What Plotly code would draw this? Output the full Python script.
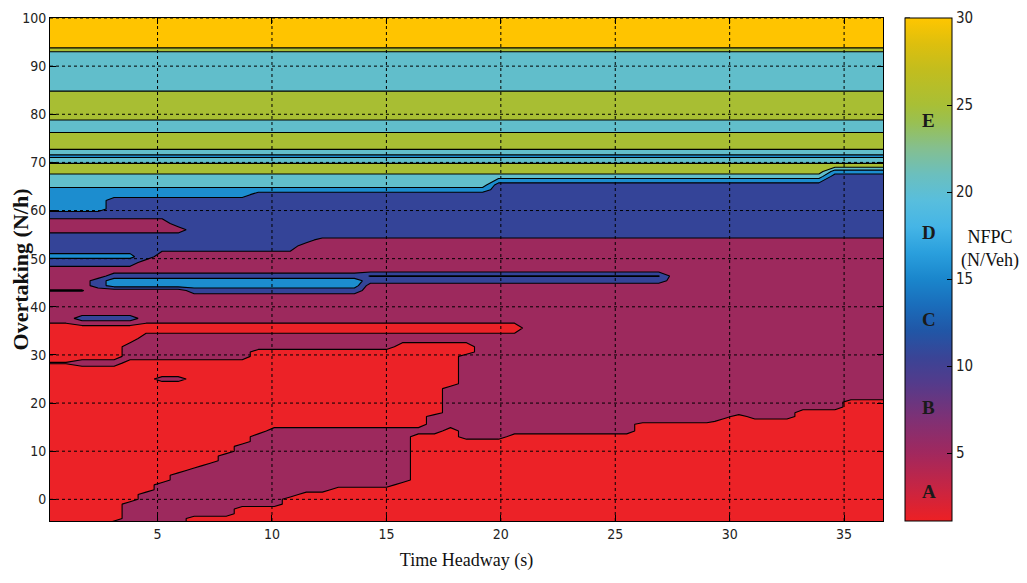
import re
import plotly.graph_objects as go

# ---------------- data ----------------
# Time-headway grid nodes (s)
x_nodes = [round(0.3 + 0.7 * i, 2) for i in range(53)]

# Overtaking grid rows (N/h)
y_rows = [-5, -4, -3, -2, -1, 0, 1, 2, 3, 4, 5, 6, 7, 8, 9, 10, 11, 12, 13,
          14.2, 15.6, 16.2, 17.2, 18.0, 19.2, 20.2, 21.2, 22, 23, 24, 25, 26, 27,
          28.3, 29.7, 30.6, 31.7, 33.4, 35.6, 37.6, 38.8, 42.0, 43.4, 44.4, 45.4,
          46.4, 47.6, 49.2, 50.4, 52.7, 53.9, 54.7, 56.0, 57.3, 59.3, 60.3, 62.1,
          63.3, 64.3, 65.3, 67.1, 68.1, 69.3, 70.3, 71.3, 72.2, 73.2, 75.7, 76.7,
          78.3, 79.3, 84.3, 85.3, 92.6, 94.2, 100]

# NFPC value read at each node (letter code -> value)
nfpc_code_values = {"r": 2.5, "h": 5.3, "m": 7.5, "H": 10.3, "b": 12.5, "e": 15.3,
                    "d": 16.0, "c": 17.5, "j": 19.0, "k": 22.5, "g": 27.5, "o": 32.5}

# one run-length coded string per row (bottom -> top), 53 nodes each
nfpc_rows = [
    "r4 m5 r44", "r5 m4 r44", "r5 m7 r41", "r5 m7 r41", "r5 m10 r38",
    "r6 m9 r38", "r6 m10 r37", "r7 m11 r35", "r7 m15 r31", "r8 m15 r30",
    "r8 m15 r30", "r9 m14 r30", "r10 m13 r30", "r11 m12 r30", "r11 m12 r30",
    "r12 m11 r30", "r12 m11 r30", "r13 m10 r30", "r13 m10 r3 m3 r24",
    "r14 m11 r1 m11 r16", "r24 m13 r16", "r24 m18 r11", "r24 m19 r1 m3 r6",
    "r25 m22 r6", "r25 m25 r3", "r25 m25 r3", "r25 m28", "r25 m28", "r25 m28",
    "r26 m27", "r7 m2 r17 m27", "r26 m27", "r26 m27",
    "h2 m3 r21 m27", "r5 m8 r13 m27", "r5 m8 r14 m26", "r5 m17 r5 m26",
    "r6 m47", "r30 m23", "m2 b4 m47", "m53", "m53",
    "H3 m6 b11 m33", "m3 b1 c16 m33", "m3 b1 c16 b19 m14", "m4 b16 e19 m14",
    "m53", "b6 m47", "d6 b1 m46", "b16 m37", "b17 m36", "b53",
    "m9 b44", "m8 b45", "b53", "c4 b49", "c4 b49", "c13 b40", "c28 b25",
    "k28 b25", "k49 b4", "g49 c4", "g53", "k53", "j53", "k53", "g53", "g53",
    "k53", "k53", "g53", "g53", "k53", "k53", "o53", "o53",
]

contour_levels = [5, 10, 15, 20, 25, 30]
band_colors = ["#EC2227", "#9D295D", "#344498", "#1C8DCF", "#61BECB", "#A8BE33", "#FFC400"]

cbar_min, cbar_max = 1.1, 30
cbar_values = [1.1, 3, 5, 7, 9, 10.5, 12, 13.5, 15, 16.5, 18, 19.5, 21, 22.5, 24, 25, 27, 28.5, 30]
cbar_colors = ["#ED2024", "#C72543", "#A1285E", "#7E3175", "#543B8B", "#3A4496",
               "#2156A6", "#1A6DBB", "#1A86CC", "#2A9FDD", "#45B5E6", "#58BEDD",
               "#6BBFBE", "#84BF90", "#99C052", "#A8BF36", "#C2BD1E", "#DDBF0E", "#FFC600"]
cbar_ticks = [5, 10, 15, 20, 25, 30]

class_letters = ["A", "B", "C", "D", "E"]
class_values = [2.8, 7.6, 12.7, 17.7, 24.1]

x_ticks = [5, 10, 15, 20, 25, 30, 35]
y_ticks = [0, 10, 20, 30, 40, 50, 60, 70, 80, 90, 100]


def decode(row):
    vals = []
    for code, n in re.findall(r"([A-Za-z])(\d+)", row):
        vals += [nfpc_code_values[code]] * int(n)
    assert len(vals) == len(x_nodes), (row, len(vals))
    return vals


assert len(nfpc_rows) == len(y_rows)
z = [decode(r) for r in nfpc_rows]

# ---------------- figure ----------------
NARROW = "Liberation Sans Narrow, DejaVu Sans Condensed, Arial Narrow, Liberation Sans, sans-serif"
SERIF = "Liberation Serif, Times New Roman, serif"
PLOT_W = 833  # plot-area width in px

band_scale = [[i / (len(band_colors) - 1), c] for i, c in enumerate(band_colors)]
cbar_scale = [[(v - cbar_min) / (cbar_max - cbar_min), c] for v, c in zip(cbar_values, cbar_colors)]

fig = go.Figure()
fig.add_trace(go.Contour(
    x=x_nodes, y=y_rows, z=z,
    autocontour=False,
    contours=dict(start=contour_levels[0], end=contour_levels[-1],
                  size=contour_levels[1] - contour_levels[0], coloring="fill"),
    colorscale=band_scale,
    line=dict(color="black", width=1.1, smoothing=0),
    showscale=False,
    hoverinfo="skip",
))

cb_x = 1.0265
fig.add_trace(go.Scatter(
    x=[x_nodes[0]], y=[y_rows[-1]], mode="markers",
    marker=dict(size=1, opacity=0, color=[cbar_min], cmin=cbar_min, cmax=cbar_max,
                colorscale=cbar_scale, showscale=True,
                colorbar=dict(x=cb_x, xanchor="left", xref="paper", y=0.5, yanchor="middle",
                              len=1, lenmode="fraction", thickness=47, thicknessmode="pixels",
                              outlinewidth=1, outlinecolor="black", xpad=0, ypad=0,
                              tickvals=cbar_ticks, ticks="inside", ticklen=5,
                              tickcolor="black", tickwidth=1, ticklabeloverflow="allow",
                              tickfont=dict(family=NARROW, size=15, color="#222"))),
    hoverinfo="skip", showlegend=False,
))

shapes = []
for xv in x_ticks:
    shapes.append(dict(type="line", xref="x", yref="paper", x0=xv, x1=xv, y0=0, y1=1,
                       line=dict(color="black", width=1, dash="dot"), layer="above"))
for yv in y_ticks:
    shapes.append(dict(type="line", xref="paper", yref="y", x0=0, x1=1, y0=yv, y1=yv,
                       line=dict(color="black", width=1, dash="dot"), layer="above"))
for v in cbar_ticks:
    yp = (v - cbar_min) / (cbar_max - cbar_min)
    shapes.append(dict(type="line", xref="paper", yref="paper", x0=cb_x, x1=cb_x + 5 / PLOT_W,
                       y0=yp, y1=yp, line=dict(color="black", width=1), layer="above"))

annotations = []
for letter, v in zip(class_letters, class_values):
    annotations.append(dict(x=cb_x + 23.5 / PLOT_W, y=(v - cbar_min) / (cbar_max - cbar_min),
                            xref="paper", yref="paper", xanchor="center", yanchor="middle",
                            text="<b>%s</b>" % letter, showarrow=False,
                            font=dict(family=SERIF, size=19, color="#1a1a1a")))
annotations.append(dict(x=1.128, y=0.54, xref="paper", yref="paper",
                        xanchor="center", yanchor="middle",
                        text="NFPC<br>(N/Veh)", showarrow=False,
                        font=dict(family=SERIF, size=18, color="#111")))

# the page body adds an 8 px offset; margins compensate so the plot area sits near 50..883 x 18..521
fig.update_layout(
    width=1027, height=583, autosize=False,
    margin=dict(l=42, r=152, t=10, b=70, autoexpand=False),
    paper_bgcolor="white", plot_bgcolor="white",
    shapes=shapes, annotations=annotations,
    xaxis=dict(range=[0.3, 36.7], tickvals=x_ticks, ticks="inside", ticklen=6,
               tickcolor="black", showline=True, linecolor="black", linewidth=1,
               mirror="ticks", showgrid=False, zeroline=False, layer="above traces",
               automargin=False, ticklabeloverflow="allow",
               tickfont=dict(family=NARROW, size=14, color="#222"),
               title=dict(text="Time Headway (s)", standoff=12,
                          font=dict(family=SERIF, size=18, color="#111"))),
    yaxis=dict(range=[-4.5, 100], tickvals=y_ticks, ticks="inside", ticklen=6,
               tickcolor="black", showline=True, linecolor="black", linewidth=1,
               mirror="ticks", showgrid=False, zeroline=False, layer="above traces",
               automargin=False, ticklabeloverflow="allow",
               tickfont=dict(family=NARROW, size=14, color="#222"),
               title=dict(text="<b>Overtaking (N/h)</b>", standoff=4,
                          font=dict(family=SERIF, size=22, color="#111"))),
)

fig.write_html("out.html")
